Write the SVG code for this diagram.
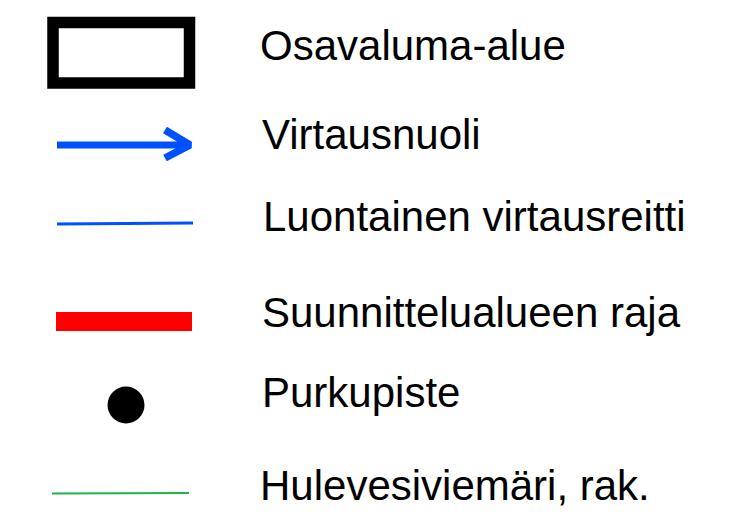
<svg xmlns="http://www.w3.org/2000/svg" width="740" height="520" viewBox="0 0 740 520">
<style>
text{font-family:"Liberation Sans",Arial,sans-serif;font-size:42px;fill:#000}
</style>
<rect width="740" height="520" fill="#fff"/>
<g id="osavaluma">
<rect x="53" y="22.5" width="136.5" height="60.5" fill="none" stroke="#000" stroke-width="11.5"/>
<text x="260" y="60">Osavaluma-alue</text>
</g>
<g id="virtausnuoli">
<line x1="57" y1="145" x2="189" y2="145" stroke="#0050ff" stroke-width="7"/>
<polyline points="165,130 190,145 165,158" fill="none" stroke="#0050ff" stroke-width="7.5" stroke-linejoin="bevel"/>
<text x="262" y="149">Virtausnuoli</text>
</g>
<g id="luontainen">
<line x1="57" y1="224" x2="193" y2="223" stroke="#0050ff" stroke-width="3"/>
<text x="263" y="231">Luontainen virtausreitti</text>
</g>
<g id="suunnittelu">
<rect x="56" y="312" width="136" height="19" fill="#ff0000"/>
<text x="262" y="327">Suunnittelualueen raja</text>
</g>
<g id="purkupiste">
<circle cx="126" cy="405" r="18.5" fill="#000"/>
<text x="262" y="407">Purkupiste</text>
</g>
<g id="hulevesi">
<line x1="52" y1="493.5" x2="189" y2="493" stroke="#22b24c" stroke-width="2"/>
<text x="260" y="500">Hulevesiviemäri, rak.</text>
</g>
</svg>
